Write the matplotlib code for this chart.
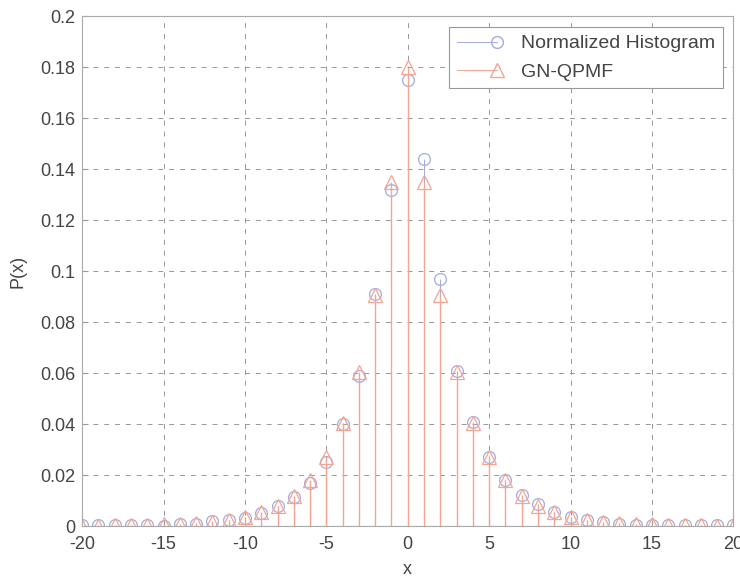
import matplotlib.pyplot as plt
import numpy as np
from matplotlib.lines import Line2D
from matplotlib.legend_handler import HandlerLine2DCompound

plt.rcParams['font.family'] = ['Liberation Sans', 'DejaVu Sans']
plt.rcParams['font.size'] = 13
plt.rcParams['axes.unicode_minus'] = False

x = np.arange(-20, 21)

# empirical pmf from the histogram
hist = [0.0005, 0.0004, 0.0006, 0.0005, 0.0003, 0.0002, 0.0008, 0.0010, 0.0020, 0.0025,
        0.0033, 0.0052, 0.0078, 0.0115, 0.0170, 0.0250, 0.0400, 0.0590, 0.0910, 0.1320,
        0.1750,
        0.1440, 0.0970, 0.0610, 0.0410, 0.0270, 0.0180, 0.0120, 0.0085, 0.0055, 0.0035,
        0.0022, 0.0014, 0.0008, 0.0006, 0.0003, 0.0005, 0.0004, 0.0005, 0.0004, 0.0003]

# generalized normal quantized pmf
qpmf = [0.0002, 0.0002, 0.0003, 0.0004, 0.0005, 0.0007, 0.0009, 0.0012, 0.0017, 0.0025,
        0.0037, 0.0055, 0.0080, 0.0118, 0.0180, 0.0270, 0.0404, 0.0605, 0.0905, 0.1350,
        0.1800,
        0.1350, 0.0905, 0.0605, 0.0404, 0.0270, 0.0180, 0.0118, 0.0080, 0.0055, 0.0037,
        0.0025, 0.0017, 0.0012, 0.0009, 0.0007, 0.0005, 0.0004, 0.0003, 0.0002, 0.0002]


class MarkerAtEnd(HandlerLine2DCompound):
    # matlab style legend entry: line segment with the marker on its right end
    def get_xdata(self, legend, xdescent, ydescent, width, height, fontsize):
        xdata = np.array([-xdescent, -xdescent + width])
        return xdata, np.array([-xdescent + width])


fig = plt.figure(figsize=(7.4, 5.8), dpi=100)
ax = fig.add_axes([0.111, 0.093, 0.880, 0.879])

blue = '#a3abe0'
red = '#f3a592'
txt = '#444444'

m1, s1, b1 = ax.stem(x, hist, linefmt='-', markerfmt='o', basefmt=' ')
plt.setp(s1, color=blue, linewidth=0.7)
plt.setp(m1, markerfacecolor='none', markeredgecolor=blue, markersize=8.5, markeredgewidth=0.9)

m2, s2, b2 = ax.stem(x, qpmf, linefmt='-', markerfmt='^', basefmt=' ')
plt.setp(s2, color=red, linewidth=1.0)
plt.setp(m2, markerfacecolor='none', markeredgecolor=red, markersize=9.5, markeredgewidth=0.9)

ax.axhline(0, color='#555555', linewidth=0.8, linestyle=':', zorder=1)

ax.set_xlim(-20, 20)
ax.set_ylim(0, 0.2)
ax.set_xticks(np.arange(-20, 21, 5))
ax.set_yticks(np.arange(0, 0.201, 0.02))
ax.set_yticklabels(['0', '0.02', '0.04', '0.06', '0.08', '0.1', '0.12', '0.14', '0.16', '0.18', '0.2'])
ax.grid(True, color='#888888', linestyle=(0, (6, 7)), linewidth=0.6)
ax.tick_params(direction='in', length=4, colors='#999999', labelcolor=txt)
ax.tick_params(axis='x', pad=7)
ax.tick_params(axis='y', pad=5)
for sp in ax.spines.values():
    sp.set_color('#aaaaaa')
    sp.set_linewidth(0.8)

ax.set_xlabel('x', color=txt, labelpad=6)
ax.set_ylabel('P(x)', color=txt, labelpad=10)

h1 = Line2D([], [], color=blue, linewidth=0.7, marker='o', markersize=8.5,
            markerfacecolor='none', markeredgecolor=blue)
h2 = Line2D([], [], color=red, linewidth=0.7, marker='^', markersize=9.5,
            markerfacecolor='none', markeredgecolor=red)
leg = ax.legend([h1, h2], ['Normalized Histogram', 'GN-QPMF'], loc='upper right',
                handler_map={Line2D: MarkerAtEnd()},
                fancybox=False, framealpha=1, edgecolor='#999999', fontsize=14,
                handlelength=2.1, handletextpad=1.2, borderpad=0.4, labelspacing=0.55,
                borderaxespad=0.55)
leg.get_frame().set_linewidth(0.8)
for t in leg.get_texts():
    t.set_color(txt)

fig.savefig('out.png', dpi=100)
